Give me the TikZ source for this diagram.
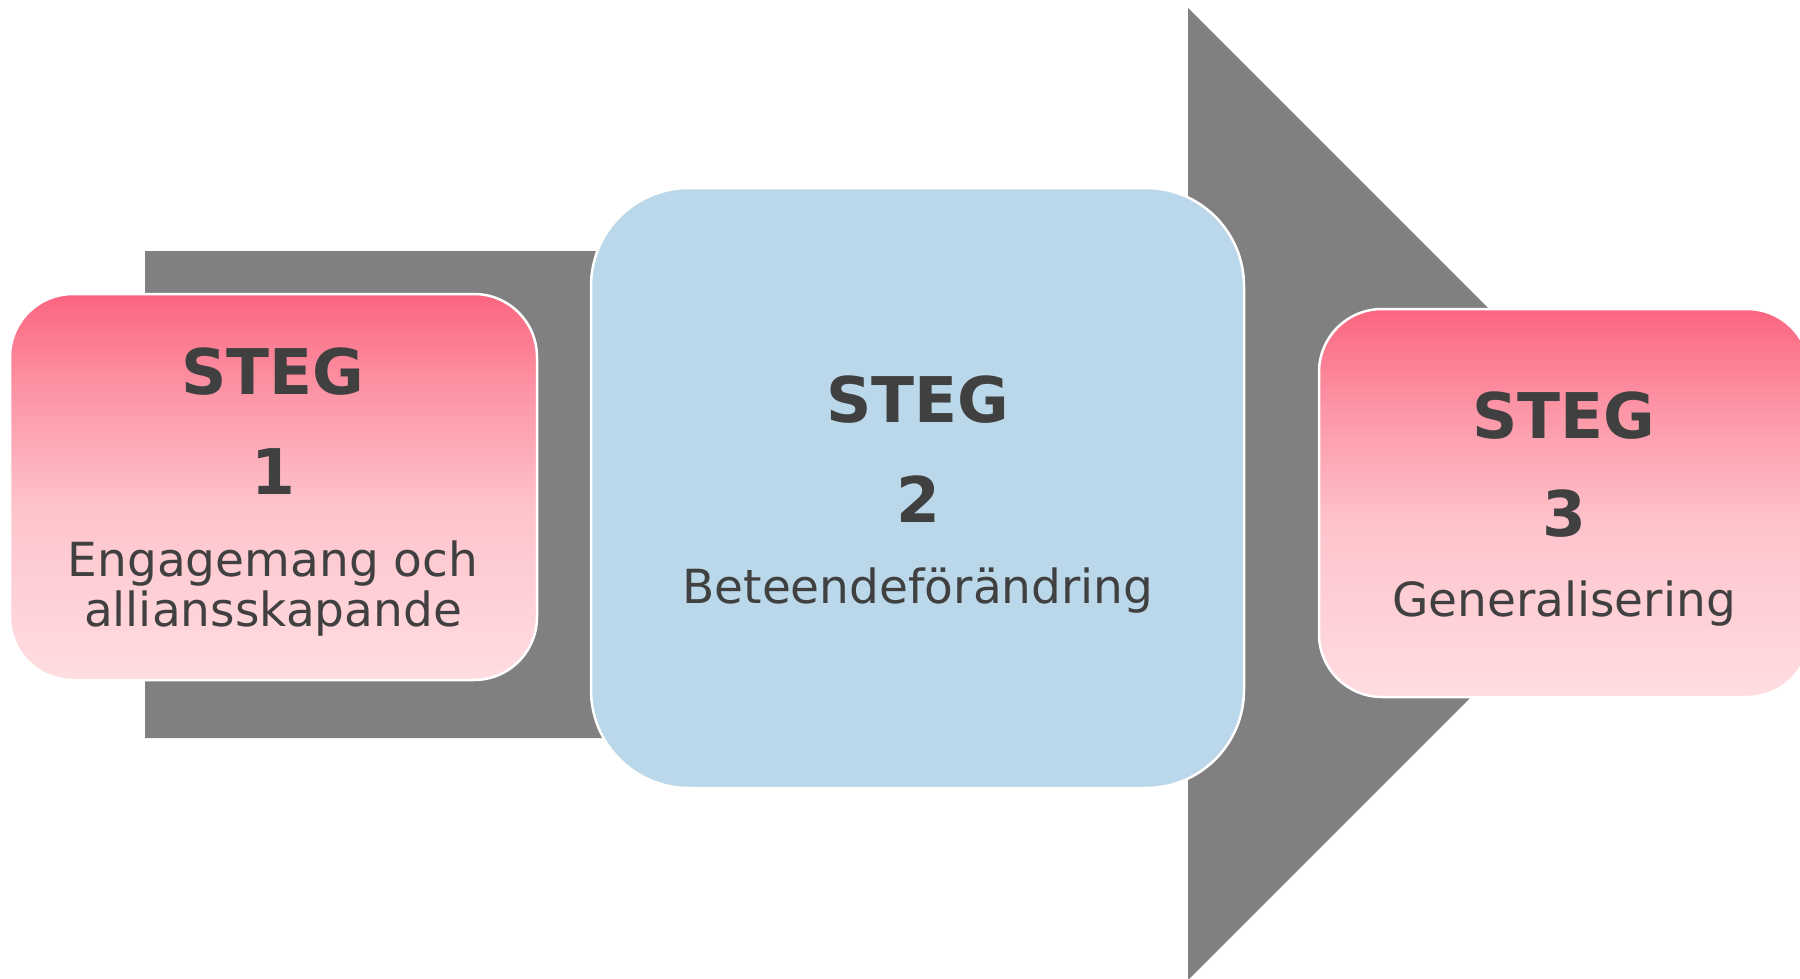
\documentclass[tikz,border=0pt]{standalone}
\usepackage{fontspec}
\setmainfont{DejaVu Sans}
\definecolor{arrowgray}{RGB}{128,128,128}
\definecolor{boxblue}{RGB}{186,216,233}
\definecolor{pinktop}{RGB}{251,101,128}
\definecolor{pinkm1}{RGB}{252,150,166}
\definecolor{pinkm2}{RGB}{254,196,204}
\definecolor{pinkbot}{RGB}{255,221,225}
\definecolor{txt}{RGB}{64,64,64}
\pgfdeclareverticalshading{pinkgrad}{100bp}{color(0bp)=(pinkbot); color(25bp)=(pinkbot); color(47bp)=(pinkm2); color(62bp)=(pinkm1); color(75bp)=(pinktop); color(100bp)=(pinktop)}
\tikzset{
  pinkbox/.style={shading=pinkgrad, draw=white, line width=2.5pt, rounded corners=63pt, inner sep=0pt},
  bluebox/.style={fill=boxblue, draw=white, line width=2.5pt, rounded corners=98pt, inner sep=0pt},
  stegtxt/.style={text=txt, font=\bfseries\fontsize{63}{63}\selectfont, anchor=base, inner sep=0pt},
  bodytxt/.style={text=txt, font=\fontsize{47}{50}\selectfont, anchor=base, inner sep=0pt}
}
\begin{document}
\begin{tikzpicture}[x=1pt,y=-1pt]
\useasboundingbox (0,0) rectangle (1800,978);
% big arrow
\fill[arrowgray] (145,251) -- (1188,251) -- (1188,8) -- (1674,494) -- (1188,980) -- (1188,738) -- (145,738) -- cycle;
% boxes
\node[pinkbox, minimum width=527pt, minimum height=386pt] (b1) at (273.5,487) {};
\node[bluebox, minimum width=653pt, minimum height=600pt] (b2) at (917.5,488) {};
\node[pinkbox, minimum width=491pt, minimum height=388pt] (b3) at (1564.5,503) {};
% texts box 1
\node[stegtxt] (t1a) at (273,394) {STEG};
\node[stegtxt] (t1b) at (273,494) {1};
\node[bodytxt] (t1c) at (273,576) {Engagemang och};
\node[bodytxt] (t1d) at (273,626) {alliansskapande};
% texts box 2
\node[stegtxt] (t2a) at (918,422) {STEG};
\node[stegtxt] (t2b) at (918,522) {2};
\node[bodytxt] (t2c) at (918,603) {Beteendeförändring};
% texts box 3
\node[stegtxt] (t3a) at (1564,438) {STEG};
\node[stegtxt] (t3b) at (1564,536) {3};
\node[bodytxt] (t3c) at (1564,616) {Generalisering};
\end{tikzpicture}
\end{document}
